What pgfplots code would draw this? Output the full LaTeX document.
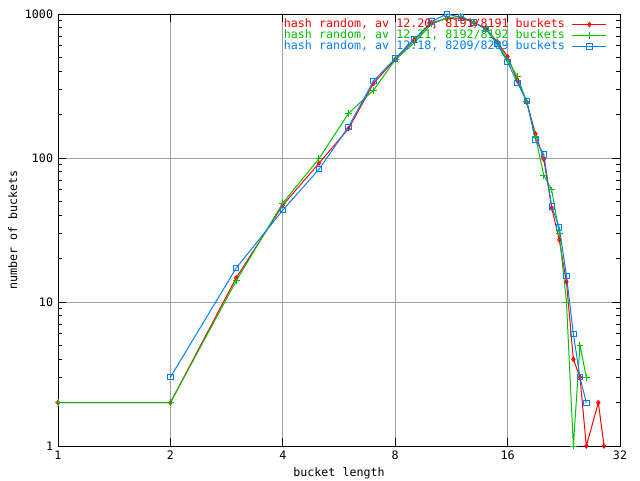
\documentclass[border=0pt]{standalone}
\usepackage{pgfplots}
\pgfplotsset{compat=1.18}
\usepackage{fontspec}
\setmainfont{DejaVu Sans Mono}
\definecolor{gpred}{HTML}{FF0000}
\definecolor{gpgreen}{HTML}{00C000}
\definecolor{gpblue}{HTML}{0080FF}
\definecolor{gpgrid}{HTML}{A0A0A0}
\begin{document}
\begin{tikzpicture}[x=1cm,y=1cm]
\path[use as bounding box] (-1.45cm,-0.85cm) rectangle (14.55cm,11.15cm);
\begin{axis}[
  at={(0,0)}, anchor=south west,
  scale only axis, width=14.05cm, height=10.8cm,
  xmode=log, ymode=log, log basis x=2, log basis y=10,
  xmin=1, xmax=32, ymin=1, ymax=1000,
  xtick={1,2,4,8,16,32}, xticklabels={1,2,4,8,16,32},
  ytick={1,10,100,1000}, yticklabels={1,10,100,1000},
  minor xtick={},
  minor ytick={2,3,4,5,6,7,8,9,20,30,40,50,60,70,80,90,200,300,400,500,600,700,800,900},
  tick align=inside,
  major tick length=0.2cm, minor tick length=0.1cm,
  every tick/.style={black, line width=0.7pt},
  xmajorgrids, ymajorgrids, yminorgrids=false,
  major grid style={gpgrid, line width=0.7pt},
  axis line style={black, line width=0.7pt},
  font=\fontsize{8.3}{9}\selectfont,
  /pgf/number format/assume math mode=true,
  xlabel={bucket length}, ylabel={number of buckets},
  xlabel style={yshift=0.05cm},
  ylabel style={yshift=-0.05cm},
  clip=false,
  legend cell align=right,
  legend plot pos=right,
  legend image code/.code={\draw[mark repeat=2,mark phase=2] plot coordinates {(0cm,0cm) (0.425cm,0cm) (0.85cm,0cm)};},
  legend style={at={(1,1)}, anchor=north east, xshift=-0.32cm, yshift=-0.12cm, draw=none, fill=none,
    inner sep=0pt, column sep=4pt,
    nodes={inner ysep=0pt, inner xsep=1pt, text height=6pt, text depth=1.8pt},
    font=\fontsize{8.3}{9}\selectfont},
]
\addplot[gpred, line width=0.7pt, mark=diamond, mark size=1.5pt, mark options={solid, line width=0.7pt}] coordinates {
(1,2) (2,2) (3,14.7) (4,47) (5,92) (6,160) (7,330) (8,485) (9,660) (10,870) (11,930) (12,940) (13,870) (14,790) (15,643) (16,505) (17,345) (18,245) (19,147) (20,98) (21,45) (22,27) (23,13.8) (24,4) (25,3) (26,1) (28,2) (29,1)
};
\addlegendentry{\textcolor{gpred}{hash random, av 12.20, 8191/8191 buckets}}
\addplot[gpgreen, line width=0.7pt, mark=+, mark size=2.4pt, mark options={solid, line width=0.7pt}] coordinates {
(1,2) (2,2) (3,14) (4,48.7) (5,99) (6,204) (7,296) (8,480) (9,631) (10,852) (11,936) (12,968) (13,870) (14,800) (15,630) (16,480) (17,367) (18,245) (19,140) (20,76) (21,60) (22,30) (23,10) (24,1) (25,5) (26,3)
};
\addlegendentry{\textcolor{gpgreen}{hash random, av 12.21, 8192/8192 buckets}}
\addplot[gpblue, line width=0.7pt, mark=square, mark size=1.9pt, mark options={solid, line width=0.7pt}] coordinates {
(2,3) (3,17.2) (4,43.5) (5,83.5) (6,165) (7,343) (8,492) (9,667) (10,885) (11,1000) (12,948) (13,875) (14,783) (15,617) (16,462) (17,333) (18,249) (19,133) (20,106) (21,46) (22,33) (23,15.2) (24,6) (25,3) (26,2)
};
\addlegendentry{\textcolor{gpblue}{hash random, av 12.18, 8209/8209 buckets}}
\end{axis}
\end{tikzpicture}
\end{document}
